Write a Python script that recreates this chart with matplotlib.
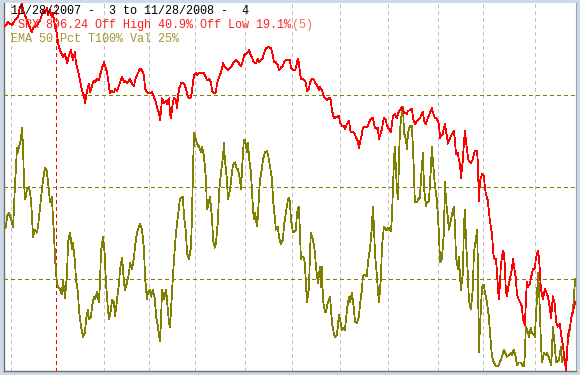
import numpy as np
import matplotlib
matplotlib.use("Agg")
import matplotlib.pyplot as plt

# session index (trading days since 11/28/2007) and SPX close
spx_t = [0, 1.8, 3.5, 4.8, 6.2, 7.0, 7.9, 8.4, 10.1, 11.5, 12.3, 12.8, 14.5, 15.9, 16.7, 17.2,
         18.1, 18.9, 19.4, 20.3, 21.1, 21.6, 22.5, 23.3, 23.8, 24.7, 26.0, 26.9, 27.8, 28.6,
         29.5, 30.4, 31.3, 31.7, 32.6, 33.5, 34.4, 35.2, 35.7, 36.6, 37.4, 37.9, 38.8, 39.6,
         40.1, 41.0, 41.8, 42.3, 43.2, 44.1, 44.5, 45.4, 46.3, 46.7, 47.6, 48.5, 48.9, 49.8,
         50.7, 51.1, 52.0, 52.9, 53.3, 54.2, 55.1, 55.5, 56.4, 57.3, 57.7, 58.6, 59.5, 59.9,
         60.8, 61.7, 62.1, 63.0, 64.8, 65.2, 66.1, 67.0, 67.4, 68.3, 68.7, 69.2, 69.6, 70.5,
         71.4, 71.8, 72.7, 73.1, 73.6, 74.0, 74.9, 75.8, 76.2, 76.6, 77.1, 78.0, 78.4, 79.3,
         80.2, 80.6, 81.5, 82.4, 82.8, 83.7, 84.6, 85.0, 85.9, 86.8, 87.2, 88.1, 89.0, 89.4,
         90.3, 91.2, 91.6, 92.5, 93.4, 93.8, 94.7, 95.6, 96.5, 96.9, 97.8, 98.7, 99.1, 100.0,
         100.9, 101.3, 102.2, 103.1, 103.5, 104.4, 105.3, 105.7, 106.6, 107.5, 107.9, 108.8,
         109.7, 110.1, 111.0, 111.9, 112.3, 113.2, 114.1, 114.5, 115.4, 116.3, 116.7, 117.6,
         118.5, 118.9, 119.8, 120.7, 121.1, 122.0, 122.9, 123.3, 124.2, 125.1, 126.0, 126.4,
         127.3, 128.2, 128.6, 129.5, 129.9, 130.4, 130.8, 131.7, 132.6, 133.0, 133.5, 134.4,
         134.8, 135.7, 136.6, 137.0, 137.9, 138.8, 139.2, 140.1, 141.0, 141.4, 142.3, 143.2,
         143.6, 144.0, 144.5, 145.4, 145.8, 146.7, 147.6, 148.0, 148.9, 149.8, 150.2, 151.1,
         152.0, 152.4, 152.9, 153.7, 154.6, 155.1, 155.9, 156.4, 156.8, 157.7, 158.1, 159.0,
         159.9, 160.3, 161.2, 162.1, 162.5, 163.4, 164.3, 164.7, 165.2, 166.1, 166.5, 167.4,
         168.3, 168.7, 169.6, 170.5, 170.9, 171.4, 172.2, 173.1, 173.6, 174.4, 175.3, 175.8,
         176.6, 177.5, 178.0, 178.8, 179.7, 180.2, 181.0, 181.9, 182.4, 183.2, 184.1, 184.6,
         185.0, 185.9, 186.3, 187.2, 188.1, 188.5, 189.0, 189.8, 190.7, 191.6, 192.1, 192.5,
         193.4, 193.8, 194.3, 194.7, 195.6, 196.0, 196.9, 197.8, 198.2, 198.7, 199.1, 200.0,
         200.4, 200.9, 201.3, 202.2, 202.6, 203.1, 203.5, 204.4, 204.8, 205.7, 206.6, 207.0,
         207.5, 208.4, 208.8, 209.2, 209.7, 210.6, 211.4, 211.9, 212.3, 213.2, 213.6, 214.1,
         215.0, 215.4, 215.8, 216.7, 217.2, 217.6, 218.0, 218.5, 218.9, 219.8, 220.3, 220.7,
         221.1, 221.6, 222.0, 222.9, 223.8, 224.2, 224.6, 225.5, 226.0, 226.8, 227.7, 228.2,
         228.6, 229.5, 229.9, 230.4, 230.8, 231.7, 232.1, 233.0, 233.9, 234.3, 235.2, 235.7,
         236.1, 236.5, 237.4, 238.3, 238.8, 239.6, 240.5, 241.0, 241.8, 242.7, 243.2, 244.0,
         244.9, 245.4, 246.2, 247.1, 247.6, 248.0, 248.5, 249.4, 249.8, 250.7, 251.6]
spx = [1466, 1476, 1470, 1480, 1487, 1507, 1516, 1501, 1480, 1464, 1455, 1464, 1470, 1480, 1491, 1501,
       1495, 1505, 1491, 1501, 1487, 1495, 1466, 1453, 1432, 1418, 1403, 1411, 1391, 1407,
       1418, 1397, 1414, 1391, 1376, 1355, 1334, 1324, 1309, 1334, 1349, 1330, 1345, 1355,
       1351, 1359, 1355, 1366, 1382, 1393, 1386, 1372, 1341, 1328, 1334, 1330, 1338, 1334,
       1345, 1351, 1363, 1351, 1355, 1349, 1355, 1359, 1349, 1343, 1355, 1366, 1376, 1380,
       1376, 1366, 1338, 1330, 1328, 1332, 1320, 1309, 1299, 1288, 1272, 1293, 1318, 1309,
       1313, 1307, 1318, 1288, 1276, 1297, 1320, 1313, 1297, 1318, 1338, 1349, 1351, 1349,
       1338, 1328, 1318, 1320, 1334, 1366, 1370, 1366, 1370, 1370, 1372, 1370, 1361, 1355,
       1359, 1351, 1334, 1328, 1332, 1349, 1361, 1372, 1391, 1386, 1382, 1376, 1380, 1382,
       1391, 1393, 1397, 1393, 1391, 1384, 1397, 1407, 1411, 1414, 1418, 1407,
       1397, 1393, 1391, 1401, 1393, 1397, 1403, 1411, 1422, 1424, 1424, 1422,
       1407, 1393, 1393, 1386, 1376, 1382, 1386, 1393, 1397, 1399, 1397, 1382,
       1376, 1376, 1382, 1401, 1391, 1372, 1359, 1359, 1355, 1349, 1334, 1338,
       1351, 1359, 1357, 1351, 1345, 1336, 1341, 1334, 1320, 1318, 1315, 1320,
       1320, 1313, 1293, 1276, 1278, 1280, 1282, 1268, 1261, 1261, 1255, 1265,
       1272, 1255, 1247, 1249, 1245, 1236, 1230, 1215, 1226, 1245, 1257, 1259,
       1259, 1261, 1272, 1278, 1278, 1257, 1255, 1257, 1234, 1247, 1255, 1278,
       1272, 1261, 1255, 1247, 1265, 1282, 1286, 1276, 1288, 1293, 1301, 1293,
       1288, 1286, 1293, 1293, 1297, 1276, 1265, 1270, 1274, 1276, 1286, 1290,
       1272, 1265, 1272, 1282, 1293, 1299, 1288, 1278, 1276, 1265, 1236, 1240,
       1245, 1257, 1265, 1251, 1224, 1230, 1240, 1247, 1251, 1230, 1203, 1205,
       1188, 1184, 1153, 1192, 1224, 1251, 1230, 1195, 1188, 1184, 1192, 1203,
       1209, 1209, 1182, 1105, 1147, 1161, 1157, 1132, 1119, 1105, 1084, 1063,
       1036, 1007, 986, 984, 959, 923, 902, 932, 973, 1001, 996, 965,
       917, 907, 923, 944, 965, 984, 973, 944, 911, 900, 892, 886,
       859, 848, 896, 938, 927, 932, 944, 963, 965, 986, 1001, 986,
       959, 923, 902, 923, 917, 907, 882, 861, 907, 890, 855, 844,
       850, 829, 806, 771, 752, 786, 827, 844, 861, 875, 896]

# session index and % of stocks above 50 day EMA
ema_t = [0, 0.9, 1.3, 2.2, 3.1, 4.0, 4.4, 4.8, 5.3, 5.7, 6.2, 6.6, 7.5, 7.9, 8.4, 8.8, 9.3, 9.7,
         10.1, 11.0, 11.9, 12.3, 12.8, 13.7, 14.5, 15.0, 15.9, 16.7, 17.2, 18.1, 18.9, 19.4,
         20.3, 21.1, 21.6, 22.0, 22.5, 23.3, 23.8, 24.7, 25.5, 26.0, 26.9, 27.8, 28.2, 29.1,
         30.0, 30.4, 30.8, 31.3, 31.7, 32.6, 33.0, 33.9, 34.8, 35.7, 36.1, 37.0, 37.4, 38.3,
         38.8, 39.6, 40.1, 41.0, 41.8, 42.3, 42.7, 43.6, 44.1, 44.5, 44.9, 45.8, 46.3, 47.1,
         47.6, 48.5, 48.9, 49.8, 50.7, 51.1, 52.0, 52.9, 53.3, 54.2, 55.1, 55.5, 56.4, 57.3,
         57.7, 58.6, 59.5, 59.9, 60.8, 61.7, 62.1, 63.0, 63.4, 64.3, 64.8, 65.6, 66.5, 67.0,
         67.8, 68.7, 69.2, 69.6, 70.5, 71.4, 71.8, 72.7, 73.1, 73.6, 74.4, 75.3, 75.8, 76.6,
         77.5, 78.0, 78.8, 79.3, 80.2, 80.6, 81.5, 82.4, 82.8, 83.3, 83.7, 84.6, 85.0, 85.9,
         86.8, 87.2, 88.1, 89.0, 89.4, 90.3, 90.7, 91.6, 92.1, 92.9, 93.4, 94.3, 94.7, 95.6,
         96.5, 96.9, 97.3, 98.2, 98.7, 99.6, 100.4, 100.9, 101.8, 102.6, 103.1, 104.0, 104.4,
         104.8, 105.3, 105.7, 106.2, 107.0, 107.5, 107.9, 108.8, 109.2, 109.7, 110.1, 110.6,
         111.4, 111.9, 112.3, 112.8, 113.6, 114.1, 115.0, 115.9, 116.3, 117.2, 118.1, 118.5,
         119.4, 119.8, 120.7, 121.1, 122.0, 122.9, 123.3, 124.2, 125.1, 125.5, 126.0, 126.4,
         127.3, 128.2, 128.6, 129.1, 129.9, 130.4, 130.8, 131.3, 132.2, 132.6, 133.0, 133.5,
         134.4, 134.8, 135.2, 136.1, 137.0, 137.4, 138.3, 139.2, 139.6, 140.1, 140.5, 141.4,
         141.8, 142.7, 143.6, 144.0, 144.5, 145.4, 145.8, 146.7, 147.6, 148.0, 148.9, 149.8,
         150.2, 151.1, 152.0, 152.4, 153.3, 154.2, 154.6, 155.5, 156.4, 156.8, 157.7, 158.1,
         159.0, 159.9, 160.3, 161.2, 162.1, 162.5, 163.0, 163.4, 164.3, 164.7, 165.2, 166.1,
         166.5, 167.4, 168.3, 168.7, 169.6, 170.5, 170.9, 171.4, 171.8, 172.2, 173.1, 173.6,
         174.0, 174.4, 174.9, 175.3, 175.8, 176.2, 177.1, 177.5, 178.0, 178.8, 179.7, 180.2,
         180.6, 181.0, 181.9, 182.4, 183.2, 184.1, 184.6, 185.0, 185.9, 186.3, 187.2, 188.1,
         188.5, 189.0, 189.8, 190.7, 191.6, 192.1, 192.9, 193.8, 194.3, 194.7, 195.6, 196.0,
         196.9, 197.8, 198.2, 198.7, 199.1, 200.0, 200.4, 200.9, 201.3, 202.2, 202.6, 203.1,
         203.5, 204.4, 204.8, 205.7, 206.6, 207.0, 207.9, 208.4, 208.8, 209.2, 209.7, 210.6,
         211.4, 211.9, 212.8, 213.6, 214.1, 215.0, 215.8, 216.3, 217.2, 218.0, 218.5, 219.4,
         220.3, 220.7, 221.6, 222.5, 223.3, 223.8, 224.6, 225.5, 226.0, 226.8, 227.7, 228.2,
         229.1, 229.5, 229.9, 230.4, 231.3, 232.1, 232.6, 233.5, 233.9, 234.3, 234.8, 235.2,
         235.7, 236.5, 237.0, 237.9, 238.8, 239.2, 240.1, 241.0, 241.4, 241.8, 242.7, 243.2,
         243.6, 244.5, 245.4, 245.8, 246.7, 247.6, 248.0, 248.5, 249.4, 249.8, 250.7, 251.6]
ema_pct = [38.4, 39.3, 42.0, 43.1, 41.2, 39.0, 44.7, 50.1, 55.6, 60.7, 59.4, 61.0, 62.9, 66.2, 61.0, 51.2, 46.6, 47.4,
           49.3, 50.1, 46.6, 42.0, 36.5, 38.4, 37.6, 39.3, 44.7, 49.3, 52.0, 55.3, 54.2, 51.2,
           45.8, 47.4, 41.2, 37.6, 30.3, 24.0, 22.9, 22.1, 20.8, 24.8, 19.9, 26.7, 34.9, 37.6,
           33.0, 34.9, 32.2, 29.5, 24.8, 21.3, 16.7, 12.1, 9.3, 10.4, 14.0, 16.7, 14.0, 14.8,
           17.5, 20.2, 19.4, 21.6, 18.6, 24.0, 32.2, 36.5, 33.8, 30.3, 24.0, 16.7, 14.0, 16.7,
           19.4, 18.6, 14.8, 19.4, 24.0, 27.6, 30.8, 24.0, 22.1, 24.0, 26.7, 29.5, 27.6, 31.1,
           33.8, 37.6, 39.3, 40.1, 38.4, 33.0, 25.7, 19.4, 21.3, 22.1, 20.2, 22.1, 19.4, 14.8,
           12.1, 8.0, 14.0, 22.1, 19.4, 22.1, 19.4, 13.1, 11.8, 16.7, 25.7, 33.8, 37.6, 42.0,
           46.6, 47.1, 47.4, 42.0, 37.6, 32.2, 30.3, 33.8, 42.0, 55.6, 64.8, 62.9, 61.6, 61.0,
           59.4, 61.0, 58.3, 52.0, 43.9, 45.8, 47.4, 42.0, 35.7, 33.5, 34.9, 41.2, 48.5, 53.9,
           58.3, 62.1, 57.5, 52.0, 46.6, 49.3, 53.9, 56.1, 56.7, 54.8, 54.8, 52.0, 49.3,
           53.9, 59.4, 62.9, 62.9, 59.4, 62.1, 58.3, 53.9, 49.3, 43.9, 41.2, 43.1,
           39.3, 42.0, 47.4, 52.0, 54.8, 57.5, 59.4, 59.7, 58.8, 55.6, 52.0, 46.6,
           41.2, 38.4, 39.3, 36.5, 34.4, 35.7, 39.3, 43.1, 46.6, 47.1, 45.8, 41.2,
           37.6, 37.9, 38.4, 43.1, 44.7, 37.6, 30.3, 31.1, 30.8, 28.4, 24.0, 18.6,
           22.9, 32.2, 37.6, 35.7, 32.2, 28.4, 24.0, 28.4, 22.9, 28.4, 19.4, 15.9,
           16.1, 18.6, 20.2, 17.5, 13.1, 9.9, 9.3, 9.9, 15.3, 14.0, 11.2, 11.8,
           11.2, 16.7, 20.2, 18.6, 21.3, 16.7, 13.4, 13.1, 14.8, 18.0, 22.1, 25.7,
           26.2, 25.7, 29.5, 33.0, 39.3, 44.7, 39.3, 32.2, 25.7, 22.1, 18.6, 25.7,
           33.8, 39.3, 38.4, 38.4, 39.0, 37.9, 42.0, 50.1, 57.5, 61.0, 49.3, 46.6,
           57.5, 64.8, 68.4, 70.3, 71.9, 64.8, 62.9, 60.2, 64.8, 66.5, 66.5, 60.2,
           53.9, 45.8, 45.8, 46.6, 47.1, 55.6, 59.4, 50.1, 44.7, 45.8, 46.1, 55.6,
           61.0, 56.7, 50.7, 46.6, 37.6, 29.5, 30.3, 37.6, 51.5, 46.6, 41.2, 38.4,
           41.2, 43.9, 44.7, 39.3, 31.1, 27.6, 31.1, 25.7, 22.1, 26.7, 39.3, 43.9,
           35.7, 25.7, 19.4, 16.7, 22.9, 32.2, 35.7, 38.4, 28.4, 5.0, 12.1, 22.9,
           23.5, 21.3, 18.6, 14.8, 10.4, 3.9, 2.3, 1.7, 1.2, 1.7, 2.5, 3.9,
           5.8, 5.0, 3.9, 4.4, 5.0, 4.4, 5.8, 3.6, 1.7, 2.3, 2.3, 1.7,
           1.2, 5.0, 12.1, 11.2, 9.3, 11.8, 10.4, 9.9, 9.3, 14.8, 19.4, 26.7,
           22.9, 8.5, 2.3, 5.0, 4.4, 5.0, 3.6, 1.7, 5.0, 12.1, 6.6, 2.5,
           2.3, 3.1, 6.6, 2.5, 3.9, 2.5, 5.0, 8.5, 11.8, 14.0, 16.7, 25.0]

# first session of each month (grid), and first session of 2008
month_starts = [3, 44, 64, 84, 106, 127, 148, 169, 191, 211, 234]
year_start = 23
pct_grid = [25, 50, 75]

fig = plt.figure(figsize=(5.8, 3.75), dpi=100, facecolor="#cdd9e6")
ax = fig.add_axes([4 / 580, 4 / 375, 572 / 580, 368 / 375])
ax.set_facecolor("white")
ax.set_xlim(0, 252)
ax.set_ylim(0, 100)
ax.set_xticks([])
ax.set_yticks([])
for s in ax.spines.values():
    s.set_visible(False)
for side in ["left", "bottom"]:
    ax.spines[side].set_visible(True)
    ax.spines[side].set_color("#707070")
    ax.spines[side].set_linewidth(1.0)
ax.spines["right"].set_visible(True)
ax.spines["right"].set_color("#9aa6b2")

# 1 px lines, 3 px dashes
px = 0.72
for m in month_starts:
    ax.axvline(m, color="#c0c0c0", lw=px, ls=(0, (4, 3)), antialiased=False, zorder=1)
ax.axvline(year_start, color="#ff0000", lw=px, ls=(0, (4, 3)), antialiased=False, zorder=1)
for g in pct_grid:
    ax.axhline(g, color="#808000", lw=px, ls=(0, (4, 3)), antialiased=False, zorder=1)

ax.plot(ema_t, ema_pct, color="#808000", lw=0.55, antialiased=False, zorder=3)

ax2 = ax.twinx()
ax2.set_ylim(min(spx), max(spx))
ax2.set_xlim(0, 252)
ax2.set_yticks([])
for s in ax2.spines.values():
    s.set_visible(False)
ax2.plot(spx_t, spx, color="#ff0000", lw=0.55, antialiased=False, zorder=4)

mono = ["Liberation Mono", "DejaVu Sans Mono"]
fig.text(11 / 580, 1 - 11 / 375, "11/28/2007 -  3 to 11/28/2008 -  4", family=mono,
         fontsize=8.5, color="black", va="center", ha="left", zorder=0)
fig.text(18 / 580, 1 - 25 / 375, "SPX 896.24 Off High 40.9% Off Low 19.1%", family=mono,
         fontsize=8.5, color="#ff2020", va="center", ha="left", zorder=0)
fig.text(292 / 580, 1 - 25 / 375, "(5)", family=mono,
         fontsize=8.5, color="#ff6a6a", va="center", ha="left", zorder=0)
fig.text(11 / 580, 1 - 39 / 375, "EMA 50 Pct T100% Val 25%", family=mono,
         fontsize=8.5, color="#a09838", va="center", ha="left", zorder=0)

fig.savefig("out.png", dpi=100, facecolor=fig.get_facecolor())
